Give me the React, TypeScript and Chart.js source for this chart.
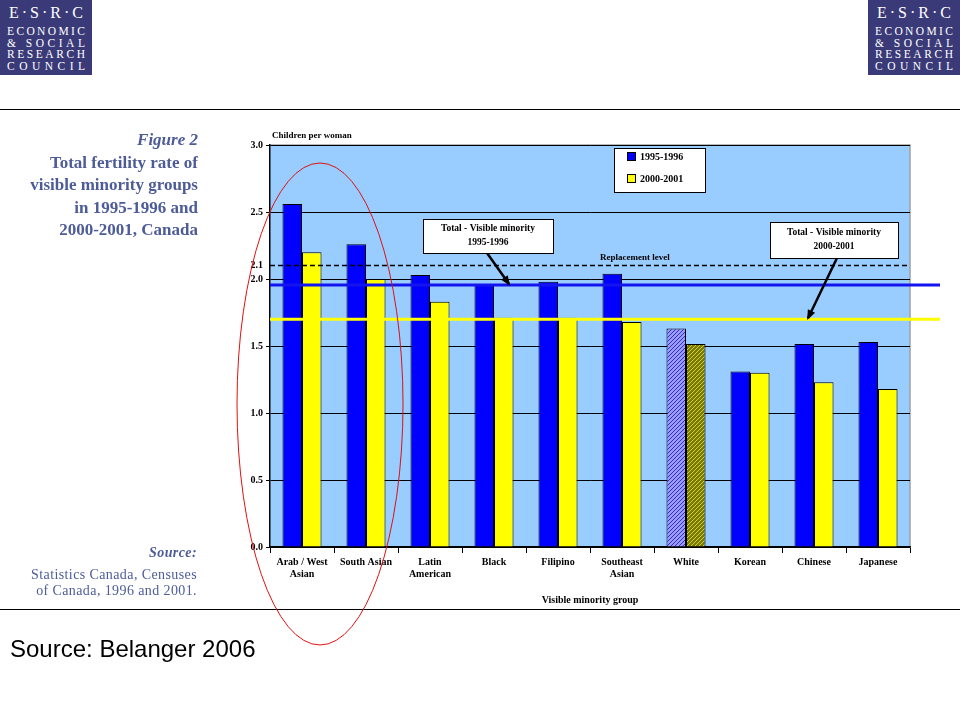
import React, { useEffect, useRef } from "react";
import { Chart, registerables } from "chart.js";
Chart.register(...registerables);

const categories: (string | string[])[] = [
  ["Arab / West", "Asian"], "South Asian", ["Latin", "American"], "Black", "Filipino",
  ["Southeast", "Asian"], "White", "Korean", "Chinese", "Japanese",
];
const rates1995 = [2.56, 2.26, 2.03, 1.955, 1.98, 2.04, 1.63, 1.31, 1.515, 1.53];
const rates2000 = [2.2, 2.0, 1.83, 1.71, 1.71, 1.68, 1.515, 1.3, 1.23, 1.18];
const seriesLabels = ["1995-1996", "2000-2001"];
const yTickValues = [0, 0.5, 1, 1.5, 2, 2.1, 2.5, 3];
const replacementLevel = 2.1;
const totalVisible1995 = 1.955;
const totalVisible2000 = 1.7;
const titleLines = ["Total fertility rate of", "visible minority groups", "in 1995-1996 and", "2000-2001, Canada"];
const logoLines = ["ECONOMIC", "& SOCIAL", "RESEARCH", "COUNCIL"];

const BLUE = "#0000FF";
const YELLOW = "#FFFF00";
const SERIF = "'Liberation Serif', 'DejaVu Serif', serif";
const TEXT_BLUE = "#4d5c99";

function makePattern(base: string, dot: string): CanvasPattern | string {
  const c = document.createElement("canvas");
  c.width = 4; c.height = 4;
  const g = c.getContext("2d");
  if (!g) return base;
  g.fillStyle = base; g.fillRect(0, 0, 4, 4);
  g.fillStyle = dot;
  g.fillRect(0, 0, 1, 1); g.fillRect(2, 2, 1, 1); g.fillRect(1, 3, 1, 1); g.fillRect(3, 1, 1, 1);
  const p = g.createPattern(c, "repeat");
  return p || base;
}

function Logo({ left }: { left: number }) {
  const tops = [26, 37.5, 49, 60.5];
  return (
    <div style={{ position: "absolute", left, top: 0, width: 92, height: 75, background: "#3a3a78", color: "#fff", fontFamily: SERIF }}>
      <div style={{ position: "absolute", left: 9, right: 9, top: 5, display: "flex", justifyContent: "space-between", fontSize: 16, lineHeight: "16px" }}>
        {"E·S·R·C".split("").map((ch, i) => <span key={i}>{ch}</span>)}
      </div>
      {logoLines.map((line, li) => (
        <div key={li} style={{ position: "absolute", left: 7, right: 7, top: tops[li], display: "flex", justifyContent: "space-between", fontSize: 11.5, lineHeight: "11px" }}>
          {line.split("").map((ch, i) => <span key={i}>{ch === " " ? "\u00a0" : ch}</span>)}
        </div>
      ))}
    </div>
  );
}

export default function App() {
  const ref = useRef<HTMLCanvasElement>(null);
  useEffect(() => {
    if (!ref.current) return;
    const whiteA = makePattern("#9a9aff", "#3030c0");
    const whiteB = makePattern("#7a7a00", "#d0d040");
    const bg1 = rates1995.map((_, i) => (i === 6 ? whiteA : BLUE));
    const bg2 = rates2000.map((_, i) => (i === 6 ? whiteB : YELLOW));

    const deco = {
      id: "deco",
      beforeDraw(chart: any) {
        const { ctx, chartArea: a } = chart;
        ctx.save();
        ctx.fillStyle = "#99ccff";
        ctx.fillRect(a.left, a.top, a.right - a.left, a.bottom - a.top);
        ctx.strokeStyle = "#a0a0a0";
        ctx.lineWidth = 1.5;
        ctx.beginPath();
        ctx.moveTo(a.left, a.top); ctx.lineTo(a.right, a.top); ctx.lineTo(a.right, a.bottom);
        ctx.stroke();
        ctx.restore();
      },
      afterDraw(chart: any) {
        const { ctx, chartArea: a } = chart;
        const y = chart.scales.y;
        ctx.save();
        const yr = y.getPixelForValue(replacementLevel);
        ctx.strokeStyle = "#000"; ctx.lineWidth = 1.5; ctx.setLineDash([5, 3]);
        ctx.beginPath(); ctx.moveTo(a.left, yr); ctx.lineTo(a.right, yr); ctx.stroke();
        ctx.setLineDash([]);
        const yb = y.getPixelForValue(totalVisible1995);
        const yy = y.getPixelForValue(totalVisible2000);
        ctx.lineWidth = 3;
        ctx.strokeStyle = "#1414f0";
        ctx.beginPath(); ctx.moveTo(a.left, yb); ctx.lineTo(940, yb); ctx.stroke();
        ctx.strokeStyle = "#ffff00";
        ctx.beginPath(); ctx.moveTo(a.left, yy); ctx.lineTo(940, yy); ctx.stroke();

        ctx.fillStyle = "#000";
        ctx.font = `bold 9px ${SERIF}`;
        ctx.textAlign = "left"; ctx.textBaseline = "alphabetic";
        ctx.fillText("Replacement level", 600, yr - 6);
        ctx.fillText("Children per woman", 272, 138);

        ctx.font = `bold 10px ${SERIF}`;
        ctx.textAlign = "center";
        ctx.fillText("Visible minority group", (a.left + a.right) / 2, 603);

        ctx.fillStyle = "#fff"; ctx.strokeStyle = "#000"; ctx.lineWidth = 1;
        ctx.fillRect(614.5, 148.5, 91, 44); ctx.strokeRect(614.5, 148.5, 91, 44);
        const legendColors = [BLUE, YELLOW];
        seriesLabels.forEach((lab, i) => {
          const ly = 157 + i * 22;
          ctx.fillStyle = legendColors[i];
          ctx.fillRect(627.5, ly - 4.5, 8, 8);
          ctx.strokeRect(627.5, ly - 4.5, 8, 8);
          ctx.fillStyle = "#000";
          ctx.font = `bold 10px ${SERIF}`;
          ctx.textAlign = "left"; ctx.textBaseline = "middle";
          ctx.fillText(lab, 640, ly);
        });

        const drawBox = (x: number, yt: number, w: number, h: number, l1: string, l2: string, ax1: number, ay1: number, ax2: number, ay2: number) => {
          ctx.strokeStyle = "#000"; ctx.lineWidth = 2.5;
          ctx.beginPath(); ctx.moveTo(ax1, ay1); ctx.lineTo(ax2, ay2); ctx.stroke();
          const ang = Math.atan2(ay2 - ay1, ax2 - ax1);
          ctx.fillStyle = "#000";
          ctx.beginPath();
          ctx.moveTo(ax2 + 2 * Math.cos(ang), ay2 + 2 * Math.sin(ang));
          ctx.lineTo(ax2 - 8 * Math.cos(ang) + 4 * Math.sin(ang), ay2 - 8 * Math.sin(ang) - 4 * Math.cos(ang));
          ctx.lineTo(ax2 - 8 * Math.cos(ang) - 4 * Math.sin(ang), ay2 - 8 * Math.sin(ang) + 4 * Math.cos(ang));
          ctx.closePath(); ctx.fill();
          ctx.fillStyle = "#fff"; ctx.lineWidth = 1;
          ctx.fillRect(x + 0.5, yt + 0.5, w, h); ctx.strokeRect(x + 0.5, yt + 0.5, w, h);
          ctx.fillStyle = "#000"; ctx.font = `bold 9.5px ${SERIF}`;
          ctx.textAlign = "center"; ctx.textBaseline = "middle";
          ctx.fillText(l1, x + w / 2, yt + h / 2 - 7);
          ctx.fillText(l2, x + w / 2, yt + h / 2 + 7);
        };
        drawBox(423, 219, 130, 34, "Total - Visible minority", "1995-1996", 487, 253, 509, yb - 1);
        drawBox(770, 222, 128, 36, "Total - Visible minority", "2000-2001", 837, 258, 808, yy - 1);

        ctx.strokeStyle = "#000"; ctx.lineWidth = 1;
        ctx.beginPath(); ctx.moveTo(0, 109.5); ctx.lineTo(960, 109.5); ctx.stroke();
        ctx.beginPath(); ctx.moveTo(0, 609.5); ctx.lineTo(960, 609.5); ctx.stroke();

        ctx.strokeStyle = "#e01010"; ctx.lineWidth = 1;
        ctx.beginPath(); ctx.ellipse(320, 404, 83, 241, 0, 0, Math.PI * 2); ctx.stroke();
        ctx.restore();
      },
    };

    const chart = new Chart(ref.current, {
      type: "bar",
      data: {
        labels: categories,
        datasets: [
          { label: seriesLabels[0], data: rates1995, backgroundColor: bg1 as any, borderColor: "#000", borderWidth: 1, borderSkipped: "bottom" },
          { label: seriesLabels[1], data: rates2000, backgroundColor: bg2 as any, borderColor: "#000", borderWidth: 1, borderSkipped: "bottom" },
        ],
      },
      options: {
        responsive: false,
        animation: false,
        events: [],
        layout: { padding: { left: 240, right: 50, top: 145, bottom: 113 } },
        plugins: { legend: { display: false }, tooltip: { enabled: false } },
        datasets: { bar: { categoryPercentage: 0.61, barPercentage: 1.0 } },
        scales: {
          x: {
            grid: { offset: true, drawOnChartArea: false, color: "#000", tickLength: 6 },
            border: { color: "#000", width: 1.5 },
            ticks: { color: "#000", font: { family: SERIF, size: 10, weight: "bold" }, padding: 3, maxRotation: 0, autoSkip: false },
            afterFit: (s: any) => { s.height = 60; },
          },
          y: {
            min: 0, max: 3,
            afterBuildTicks: (s: any) => { s.ticks = yTickValues.map((v) => ({ value: v })); },
            grid: {
              color: (c: any) => (c.tick && Math.abs(c.tick.value - replacementLevel) < 1e-6 ? "rgba(0,0,0,0)" : "#000"),
              lineWidth: 1, tickLength: 4,
            },
            border: { color: "#000", width: 1.5 },
            ticks: {
              autoSkip: false, color: "#000", padding: 3,
              font: { family: SERIF, size: 10, weight: "bold" },
              callback: (v: any) => Number(v).toFixed(1),
            },
            afterFit: (s: any) => { s.width = 30; },
          },
        },
      } as any,
      plugins: [deco],
    });
    return () => chart.destroy();
  }, []);

  return (
    <div style={{ position: "absolute", left: 0, top: 0, width: 960, height: 720, background: "#fff", overflow: "hidden" }}>
      <canvas ref={ref} width={960} height={720} style={{ position: "absolute", left: 0, top: 0 }} />
      <Logo left={0} />
      <Logo left={868} />
      <div style={{ position: "absolute", right: 762, top: 129, textAlign: "right", color: TEXT_BLUE, fontFamily: SERIF, fontWeight: "bold", whiteSpace: "nowrap" }}>
        <div style={{ fontStyle: "italic", fontSize: 17, lineHeight: "22.5px" }}>Figure 2</div>
        {titleLines.map((t, i) => (
          <div key={i} style={{ fontSize: 17, lineHeight: "22.5px" }}>{t}</div>
        ))}
      </div>
      <div style={{ position: "absolute", right: 763, top: 545, textAlign: "right", color: TEXT_BLUE, fontFamily: SERIF, whiteSpace: "nowrap", fontSize: 14, lineHeight: "16px", letterSpacing: 0.4 }}>
        <div style={{ fontStyle: "italic", fontWeight: "bold", marginBottom: 6 }}>Source:</div>
        <div>Statistics Canada, Censuses</div>
        <div>of Canada, 1996 and 2001.</div>
      </div>
      <div style={{ position: "absolute", left: 10, top: 635, fontFamily: "'Liberation Sans', Arial, sans-serif", fontSize: 24, color: "#000", whiteSpace: "nowrap" }}>
        Source: Belanger 2006
      </div>
    </div>
  );
}
